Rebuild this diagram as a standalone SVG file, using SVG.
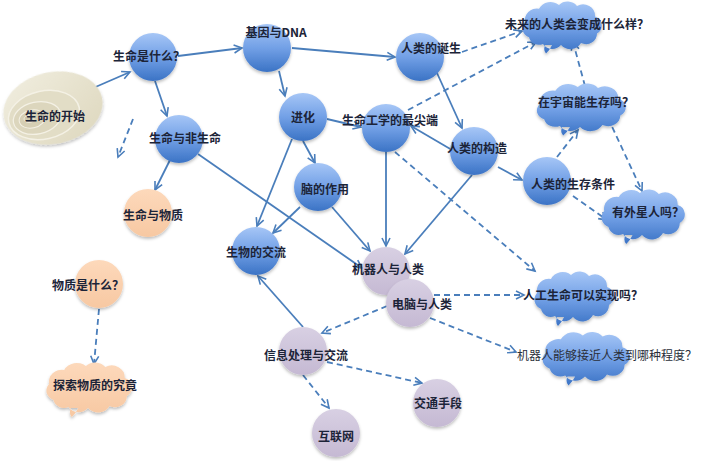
<svg xmlns="http://www.w3.org/2000/svg" width="708" height="461" viewBox="0 0 708 461">
<defs>
<style>
.t{font-family:"Noto Sans CJK SC","Noto Sans",sans-serif;font-size:12px;font-weight:bold;fill:#1c2438;text-anchor:middle;}
.tn{font-family:"Noto Sans CJK SC","Noto Sans",sans-serif;font-size:12px;fill:#2a2f3a;text-anchor:middle;}
.s{fill:none;stroke:#4a7ebb;stroke-width:1.8;marker-end:url(#ah);}
.d{fill:none;stroke:#4a7ebb;stroke-width:1.8;stroke-dasharray:6,4;marker-end:url(#ah);}
.blue{fill:url(#gb);filter:url(#sh);}
.pur{fill:url(#gp);filter:url(#sh);}
.pea{fill:url(#go);filter:url(#sh);}
</style>
<linearGradient id="gb" x1="0" y1="0" x2="0" y2="1">
<stop offset="0" stop-color="#a6c6f6"/><stop offset="0.5" stop-color="#72a0e6"/><stop offset="1" stop-color="#3b73c5"/>
</linearGradient>
<linearGradient id="gp" x1="0" y1="0" x2="0" y2="1">
<stop offset="0" stop-color="#d8d0e3"/><stop offset="1" stop-color="#c5b9d3"/>
</linearGradient>
<linearGradient id="go" x1="0" y1="0" x2="0" y2="1">
<stop offset="0" stop-color="#fdd9bb"/><stop offset="1" stop-color="#f7c8a2"/>
</linearGradient>
<linearGradient id="gbe" x1="0" y1="0" x2="1" y2="1">
<stop offset="0" stop-color="#f1eee0"/><stop offset="1" stop-color="#ddd7bd"/>
</linearGradient>
<filter id="sh" x="-20%" y="-20%" width="140%" height="150%">
<feDropShadow dx="0" dy="2" stdDeviation="1.5" flood-color="#000" flood-opacity="0.25"/>
</filter>
<marker id="ah" markerUnits="userSpaceOnUse" markerWidth="12" markerHeight="12" refX="9" refY="5" orient="auto">
<path d="M1,1 L9,5 L1,9" fill="none" stroke="#4a7ebb" stroke-width="1.6"/>
</marker>
<path id="cloud" d="M-32,14 A10,10 0 0 1 -36,-2 A12,12 0 0 1 -22,-16 A13,13 0 0 1 -2,-20 A12,12 0 0 1 16,-19 A12,12 0 0 1 34,-8 A10,10 0 0 1 36,10 A11,11 0 0 1 20,20 A12,12 0 0 1 0,22 A11,11 0 0 1 -18,21 A10,10 0 0 1 -32,14 Z M-16,22 Q-18,28 -15,31 Q-11,27 -9,22 Z"/>
</defs>
<rect width="708" height="461" fill="#ffffff"/>

<g id="connectors">
<line class="s" x1="84" y1="92" x2="130" y2="72"/>
<line class="s" x1="178" y1="56" x2="242" y2="48"/>
<line class="s" x1="292" y1="48" x2="395" y2="57"/>
<line class="s" x1="279" y1="71" x2="285" y2="96"/>
<line class="s" x1="155" y1="81" x2="167" y2="116"/>
<line class="s" x1="170" y1="160" x2="155" y2="190"/>
<line class="s" x1="198" y1="154" x2="362" y2="268"/>
<line class="s" x1="292" y1="139" x2="257" y2="226"/>
<line class="s" x1="303" y1="141" x2="315" y2="163"/>
<line class="s" x1="327" y1="119" x2="361" y2="127"/>
<line class="s" x1="437" y1="73" x2="462" y2="128"/>
<line class="s" x1="452" y1="150" x2="411" y2="126"/>
<line class="s" x1="498" y1="167" x2="522" y2="180"/>
<line class="s" x1="472" y1="175" x2="405" y2="254"/>
<line class="s" x1="386" y1="152" x2="386" y2="246"/>
<line class="s" x1="300" y1="207" x2="273" y2="233"/>
<line class="s" x1="332" y1="207" x2="370" y2="251"/>
<line class="s" x1="303" y1="327" x2="258" y2="276"/>
<line class="d" x1="408" y1="110" x2="536" y2="42"/>
<line class="d" x1="462" y1="52" x2="522" y2="31"/>
<line class="d" x1="585" y1="86" x2="573" y2="42"/>
<line class="d" x1="557" y1="157" x2="578" y2="130"/>
<line class="d" x1="608" y1="118" x2="642" y2="191"/>
<line class="d" x1="573" y1="196" x2="607" y2="220"/>
<line class="d" x1="395" y1="152" x2="535" y2="271"/>
<line class="d" x1="434" y1="295" x2="524" y2="295"/>
<line class="d" x1="430" y1="318" x2="516" y2="352"/>
<line class="d" x1="387" y1="306" x2="322" y2="333"/>
<line class="d" x1="327" y1="362" x2="422" y2="383"/>
<line class="d" x1="303" y1="375" x2="329" y2="408"/>
<line class="d" x1="99" y1="309" x2="94" y2="364"/>
<line class="d" x1="133" y1="119" x2="118" y2="157"/>
</g>

<g id="n-start">
<ellipse cx="53" cy="108" rx="50" ry="36" transform="rotate(-12 53 108)" fill="url(#gbe)" filter="url(#sh)"/>
<ellipse cx="44" cy="115" rx="36" ry="24" transform="rotate(-12 44 115)" fill="#e2ddc6" stroke="#f4f1e5" stroke-width="1.5"/>
<ellipse cx="37" cy="118" rx="24" ry="16" transform="rotate(-12 37 118)" fill="#dcd6bd" stroke="#f4f1e5" stroke-width="1.2"/>
<ellipse cx="32" cy="119" rx="13" ry="9" transform="rotate(-12 32 119)" fill="#d6cfb4" stroke="#f4f1e5" stroke-width="1"/>
<ellipse cx="29" cy="119" rx="5" ry="3.5" fill="#cfc8ac" stroke="#f4f1e5" stroke-width="0.8"/>
<text class="t" x="55" y="121">生命的开始</text>
</g>

<g id="n-what"><circle class="blue" cx="153" cy="57" r="24"/><text class="t" x="149" y="61">生命是什么？</text></g>
<g id="n-dna"><circle class="blue" cx="267" cy="48" r="24"/><text class="t" x="276" y="37">基因与DNA</text></g>
<g id="n-birth"><circle class="blue" cx="420" cy="57" r="24"/><text class="t" x="431" y="53">人类的诞生</text></g>
<g id="n-nonlife"><circle class="blue" cx="179" cy="139" r="24"/><text class="t" x="185" y="143">生命与非生命</text></g>
<g id="n-evo"><circle class="blue" cx="303" cy="117" r="24"/><text class="t" x="303" y="122">进化</text></g>
<g id="n-bioeng"><circle class="blue" cx="386" cy="128" r="24"/><text class="t" x="390" y="125">生命工学的最尖端</text></g>
<g id="n-struct"><circle class="blue" cx="474" cy="151" r="24"/><text class="t" x="477" y="153">人类的构造</text></g>
<g id="n-survive"><circle class="blue" cx="547" cy="181" r="24"/><text class="t" x="573" y="189">人类的生存条件</text></g>
<g id="n-brain"><circle class="blue" cx="318" cy="187" r="24"/><text class="t" x="325" y="194">脑的作用</text></g>
<g id="n-biocomm"><circle class="blue" cx="256" cy="251" r="24"/><text class="t" x="256" y="257">生物的交流</text></g>

<g id="n-matter"><circle class="pea" cx="148" cy="213" r="24"/><text class="t" x="153" y="220">生命与物质</text></g>
<g id="n-whatmatter"><circle class="pea" cx="99" cy="284" r="24"/><text class="t" x="88" y="290">物质是什么？</text></g>

<g id="n-robot"><circle class="pur" cx="386" cy="271" r="24"/><text class="t" x="388" y="274">机器人与人类</text></g>
<g id="n-computer"><circle class="pur" cx="410" cy="303" r="24"/><text class="t" x="422" y="309">电脑与人类</text></g>
<g id="n-info"><circle class="pur" cx="303" cy="351" r="24"/><text class="t" x="306" y="360">信息处理与交流</text></g>
<g id="n-traffic"><circle class="pur" cx="437" cy="403" r="24"/><text class="t" x="438" y="408">交通手段</text></g>
<g id="n-internet"><circle class="pur" cx="336" cy="433" r="24"/><text class="t" x="336" y="441">互联网</text></g>

<g id="c-future"><use href="#cloud" transform="translate(561 24) scale(1.0 0.95)" fill="url(#gb)" filter="url(#sh)"/><text class="t" x="577" y="29">未来的人类会变成什么样？</text></g>
<g id="c-space"><use href="#cloud" transform="translate(580 106) scale(1.12 0.95)" fill="url(#gb)" filter="url(#sh)"/><text class="t" x="586" y="107">在宇宙能生存吗？</text></g>
<g id="c-alien"><use href="#cloud" transform="translate(642 213) scale(1.05 1.0)" fill="url(#gb)" filter="url(#sh)"/><text class="t" x="648" y="217">有外星人吗？</text></g>
<g id="c-artlife"><use href="#cloud" transform="translate(573 295) scale(1.0 1.0)" fill="url(#gb)" filter="url(#sh)"/><text class="t" x="583" y="300">人工生命可以实现吗？</text></g>
<g id="c-robotnear"><use href="#cloud" transform="translate(585 355) scale(1.1 0.98)" fill="url(#gb)" filter="url(#sh)"/><text class="tn" x="607" y="360">机器人能够接近人类到哪种程度？</text></g>
<g id="c-explore"><use href="#cloud" transform="translate(88 386) scale(1.08 1.0)" fill="url(#go)" filter="url(#sh)"/><text class="t" x="95" y="390">探索物质的究竟</text></g>
</svg>
